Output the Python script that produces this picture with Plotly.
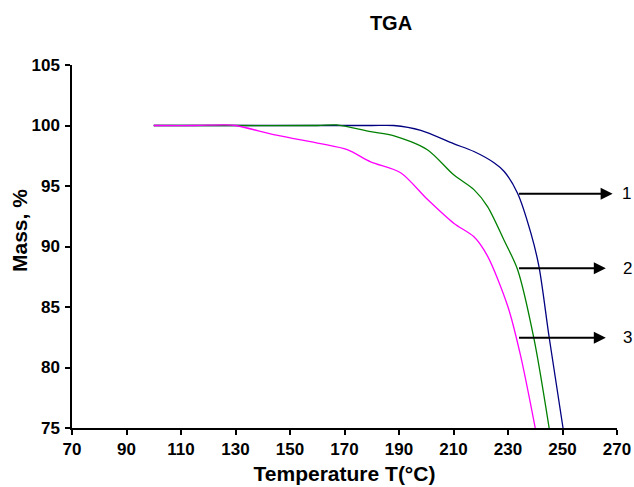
import plotly.graph_objects as go

# Data
T1 = [100, 120, 140, 160, 180, 188, 198, 210, 217.5, 225, 228.6, 233.5, 238.4, 241.4, 245.1, 250.2]
M1 = [100, 100, 100, 100, 100, 100, 99.6, 98.5, 97.85, 96.9, 96.2, 94.4, 91.1, 88.3, 82.5, 75]

T2 = [100, 130, 160, 167, 179.6, 188.2, 200.4, 210.2, 217.5, 222.5, 228.6, 233.5, 239.6, 245.1]
M2 = [100, 100, 100, 100.05, 99.5, 99.15, 98.0, 95.9, 94.7, 93.3, 90.5, 88.1, 82.3, 75]

T3 = [100, 115, 126, 130, 145, 161.2, 171, 179.6, 190.6, 200.4, 210.2, 217.5, 222.5, 230, 234.7, 240]
M3 = [100, 100, 100.05, 100, 99.2, 98.5, 98.0, 97.0, 96.1, 93.9, 91.9, 90.8, 89.2, 85.0, 80.9, 75]

series_names = ["1", "2", "3"]
series_colors = ["#000080", "#008000", "#FF00FF"]

# Arrow annotations: (start T, end T, mass level)
arrow_start = [233.5, 233.5, 233.5]
arrow_end = [268.4, 265.9, 265.9]
arrow_level = [94.35, 88.2, 82.45]
label_xpaper = [1.017, 1.019, 1.019]

x_ticks = list(range(70, 271, 20))
y_ticks = list(range(75, 106, 5))

FONT = "Liberation Sans, Arial"

fig = go.Figure()
for T, M, name, col in zip([T1, T2, T3], [M1, M2, M3], series_names, series_colors):
    fig.add_trace(go.Scatter(x=T, y=M, mode="lines", name=name,
                             line=dict(color=col, width=1.3, shape="spline", smoothing=0.8),
                             showlegend=False))

annotations = []
for xs, xe, yl, lx, name in zip(arrow_start, arrow_end, arrow_level, label_xpaper, series_names):
    annotations.append(dict(x=xe, y=yl, ax=xs, ay=yl, xref="x", yref="y", axref="x", ayref="y",
                            text="", showarrow=True, arrowhead=2, arrowsize=1.2, arrowwidth=2,
                            arrowcolor="#000000", standoff=0))
    annotations.append(dict(x=lx, y=yl, xref="paper", yref="y", text=name, showarrow=False,
                            xanchor="center", yanchor="middle",
                            font=dict(family=FONT, size=17, color="#000000")))

# y-axis title as a rotated annotation
annotations.append(dict(x=-(72 - 20) / 545, y=(487 - 59 - 231) / (487 - 65 - 59),
                        xref="paper", yref="paper", text="Mass, %", textangle=-90,
                        showarrow=False, xanchor="center", yanchor="middle",
                        font=dict(family=FONT, size=21, color="#000000", weight="bold")))

fig.update_layout(
    width=634, height=487,
    margin=dict(l=72, r=17, t=65, b=59),
    paper_bgcolor="white", plot_bgcolor="white",
    title=dict(text="TGA", x=391/634, xref="container", xanchor="center",
               y=1 - 23/487, yref="container", yanchor="middle",
               font=dict(family=FONT, size=20, color="#000000", weight="bold")),
    annotations=annotations,
)
fig.update_xaxes(range=[70, 270], tickvals=x_ticks, ticks="outside", ticklen=5, tickwidth=1.5,
                 tickcolor="#000000", showline=True, linecolor="#000000", linewidth=1.5,
                 showgrid=False, zeroline=False, automargin=False,
                 tickfont=dict(family=FONT, size=17, color="#000000", weight="bold"),
                 title=dict(text="Temperature T(°C)", standoff=8,
                            font=dict(family=FONT, size=21, color="#000000", weight="bold")))
fig.update_yaxes(range=[75, 105], tickvals=y_ticks, ticks="outside", ticklen=5, tickwidth=1.5,
                 tickcolor="#000000", showline=True, linecolor="#000000", linewidth=1.5,
                 showgrid=False, zeroline=False, automargin=False, ticklabelstandoff=2,
                 tickfont=dict(family=FONT, size=17, color="#000000", weight="bold"))

fig.write_html("out.html", config={"displayModeBar": False},
               post_script="document.body.style.margin='0';document.body.style.overflow='hidden';")
